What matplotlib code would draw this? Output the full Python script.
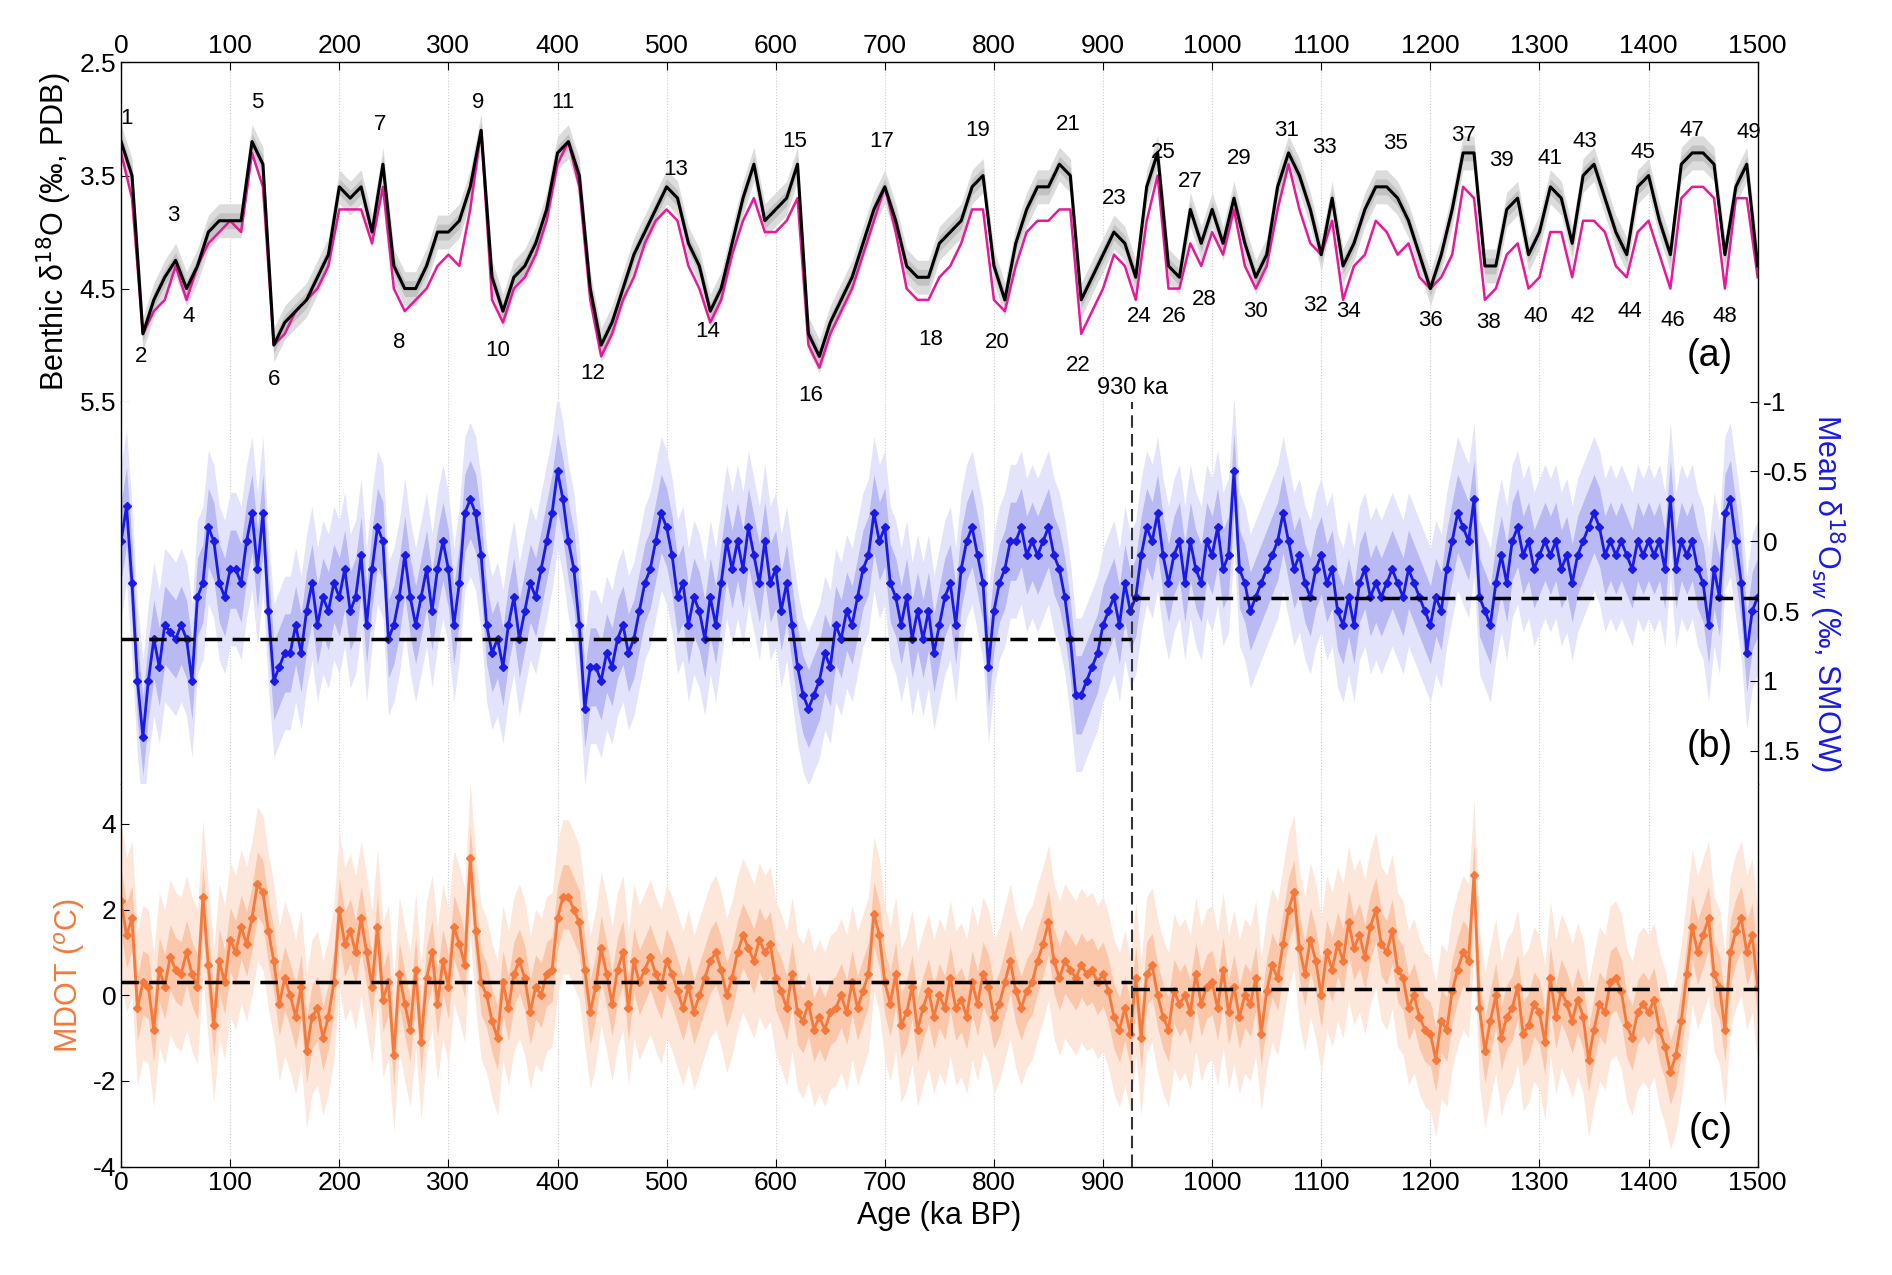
import numpy as np
import matplotlib
matplotlib.use("Agg")
import matplotlib.pyplot as plt

plt.rcParams['font.family'] = ['Liberation Sans', 'DejaVu Sans']
plt.rcParams['axes.unicode_minus'] = False

# Panel (a): benthic d18O, 10 ka steps
stack_a = [3.2,3.5,4.9,4.6,4.4,4.25,4.5,4.3,4.0,3.9,
 3.9,3.9,3.2,3.4,5.0,4.8,4.7,4.6,4.4,4.2,
 3.6,3.7,3.6,4.0,3.4,4.3,4.5,4.5,4.3,4.0,
 4.0,3.9,3.6,3.1,4.4,4.7,4.4,4.3,4.1,3.8,
 3.3,3.2,3.5,4.5,5.0,4.8,4.5,4.2,4.0,3.8,
 3.6,3.7,4.1,4.3,4.7,4.5,4.1,3.7,3.4,3.9,
 3.8,3.7,3.4,4.9,5.1,4.8,4.6,4.4,4.1,3.8,
 3.6,3.9,4.3,4.4,4.4,4.1,4.0,3.9,3.6,3.5,
 4.3,4.6,4.1,3.8,3.6,3.6,3.4,3.5,4.6,4.4,
 4.2,4.0,4.1,4.4,3.6,3.3,4.3,4.4,3.8,4.1,
 3.8,4.1,3.7,4.1,4.4,4.2,3.6,3.3,3.5,3.8,
 4.2,3.7,4.3,4.1,3.8,3.6,3.6,3.7,3.9,4.2,
 4.5,4.2,3.8,3.3,3.3,4.3,4.3,3.8,3.7,4.2,
 4.0,3.6,3.7,4.1,3.5,3.4,3.7,4.0,4.2,3.6,
 3.5,3.9,4.2,3.4,3.3,3.3,3.4,4.2,3.6,3.4,
 4.3]
site_a = [3.3,3.7,4.9,4.7,4.6,4.3,4.6,4.3,4.1,4.0,
 3.9,4.0,3.3,3.6,5.0,4.9,4.7,4.6,4.5,4.3,
 3.8,3.8,3.8,4.1,3.6,4.5,4.7,4.6,4.5,4.3,
 4.2,4.3,3.8,3.1,4.6,4.8,4.5,4.4,4.2,3.9,
 3.4,3.2,3.6,4.6,5.1,4.9,4.6,4.4,4.1,3.9,
 3.8,3.9,4.3,4.5,4.8,4.6,4.2,3.9,3.7,4.0,
 4.0,3.9,3.7,5.0,5.2,4.9,4.7,4.5,4.2,3.9,
 3.6,4.0,4.5,4.6,4.6,4.4,4.3,4.1,3.8,3.8,
 4.6,4.7,4.3,4.0,3.9,3.9,3.8,3.8,4.9,4.7,
 4.5,4.2,4.3,4.6,3.9,3.5,4.5,4.5,4.1,4.3,
 4.0,4.2,3.8,4.3,4.5,4.3,3.8,3.4,3.8,4.1,
 4.2,3.9,4.6,4.3,4.2,3.9,4.0,4.2,4.1,4.4,
 4.5,4.4,4.2,3.6,3.7,4.6,4.5,4.2,4.1,4.5,
 4.4,4.0,4.0,4.4,3.9,3.9,4.0,4.3,4.4,4.0,
 3.9,4.2,4.5,3.7,3.6,3.6,3.7,4.5,3.7,3.7,
 4.4]

# Panel (b): mean d18Osw, 5 ka steps
sw_b = [0.0,-0.25,0.3,1.0,1.4,1.0,0.7,0.9,0.6,0.65,0.7,0.6,0.7,1.0,0.4,0.3,-0.1,0.0,0.3,0.4,
 0.2,0.2,0.3,0.0,-0.2,0.2,-0.2,0.5,1.0,0.9,0.8,0.8,0.6,0.8,0.5,0.3,0.6,0.4,0.5,0.3,
 0.4,0.2,0.5,0.4,0.1,0.6,0.2,-0.1,0.0,0.7,0.6,0.4,0.1,0.4,0.6,0.4,0.2,0.5,0.2,0.0,
 0.2,0.6,0.3,-0.2,-0.3,-0.2,0.1,0.6,0.8,0.7,0.9,0.6,0.4,0.7,0.5,0.3,0.4,0.2,0.0,-0.2,
 -0.5,-0.3,0.0,0.2,0.6,1.2,0.9,0.9,1.0,0.8,0.9,0.7,0.6,0.8,0.7,0.5,0.3,0.2,0.0,-0.2,
 -0.1,0.1,0.4,0.3,0.6,0.4,0.5,0.7,0.4,0.6,0.3,0.0,0.2,0.0,0.2,-0.1,0.1,0.3,0.0,0.3,
 0.2,0.5,0.3,0.6,0.9,1.1,1.2,1.1,1.0,0.8,0.9,0.6,0.7,0.5,0.6,0.4,0.2,0.1,-0.2,0.0,
 -0.1,0.3,0.4,0.6,0.4,0.7,0.5,0.7,0.5,0.8,0.6,0.4,0.3,0.6,0.2,0.0,-0.1,0.1,0.3,0.9,
 0.5,0.3,0.2,0.0,0.0,-0.1,0.1,0.0,0.1,0.0,-0.1,0.1,0.2,0.4,0.7,1.1,1.1,1.0,0.9,0.8,
 0.6,0.5,0.4,0.6,0.3,0.5,0.4,0.1,-0.1,0.0,-0.2,0.1,0.3,0.1,0.0,0.3,0.0,0.2,0.3,0.0,
 0.1,-0.1,0.2,0.1,-0.5,0.2,0.3,0.5,0.4,0.3,0.2,0.1,0.0,-0.2,0.0,0.2,0.1,0.3,0.4,0.2,
 0.1,0.3,0.2,0.5,0.6,0.4,0.6,0.3,0.2,0.4,0.3,0.4,0.3,0.2,0.3,0.4,0.2,0.3,0.4,0.5,
 0.6,0.4,0.5,0.2,0.0,-0.2,-0.1,0.0,-0.3,0.4,0.5,0.6,0.3,0.1,0.3,0.0,-0.1,0.1,0.0,0.2,
 0.1,0.0,0.1,0.0,0.2,0.1,0.3,0.1,0.0,-0.1,-0.2,-0.1,0.1,0.0,0.1,0.0,0.1,0.2,0.0,0.1,
 0.0,0.1,0.0,0.2,-0.3,0.2,0.0,0.1,0.0,0.2,0.3,0.6,0.2,0.4,-0.2,-0.3,0.0,0.3,0.8,0.5,
 0.4]

# Panel (c): MDOT, 5 ka steps
mdot_c = [2.2,1.4,1.8,-0.3,0.3,0.2,-0.8,0.6,0.2,0.9,0.6,0.5,1.0,0.5,0.2,2.3,0.7,-0.7,0.8,0.3,
 1.3,1.0,1.6,1.2,1.8,2.6,2.4,1.5,0.8,-0.2,0.4,0.0,-0.5,0.2,-1.3,-0.5,-0.3,-1.0,-0.5,0.3,
 2.0,1.2,1.5,1.0,1.8,1.0,0.2,1.6,-0.1,0.3,-1.4,0.5,-0.2,-0.8,0.6,-1.1,0.4,1.0,-0.2,0.8,
 0.2,1.6,1.2,0.7,3.2,1.5,0.3,0.0,-0.6,-1.0,0.3,-0.3,0.5,0.8,0.4,-0.4,0.2,0.0,0.5,0.6,
 1.8,2.3,2.3,2.0,1.7,0.6,-0.4,0.2,1.1,0.5,-0.2,0.6,1.0,-0.3,0.8,0.3,0.6,0.9,0.5,0.2,
 0.8,0.5,0.1,-0.3,0.2,-0.4,0.0,0.4,0.8,1.0,0.6,0.0,0.4,1.0,1.4,1.1,0.8,1.3,1.0,1.2,
 0.4,0.1,-0.3,0.5,-0.4,-0.6,-0.2,-0.8,-0.5,-0.8,-0.4,-0.3,0.0,-0.4,0.3,-0.3,0.1,0.5,1.9,1.4,
 0.3,-0.2,0.5,-0.7,-0.4,0.2,-0.8,-0.3,0.1,-0.5,0.0,-0.3,0.4,-0.3,-0.1,-0.5,0.3,-0.2,0.5,0.2,
 -0.5,-0.2,0.3,0.8,0.1,-0.3,0.1,0.3,0.8,1.2,1.7,0.8,0.4,0.8,0.6,0.4,0.7,0.5,0.6,0.3,
 0.5,0.1,-0.5,-0.8,-0.3,-0.9,0.4,-1.0,0.5,0.7,0.0,-0.5,-0.8,0.1,-0.2,0.0,-0.4,0.5,-0.2,0.2,
 0.3,-0.3,0.6,-0.4,0.2,-0.5,0.0,-0.2,0.4,-0.9,0.1,0.7,0.4,1.2,2.0,2.4,1.1,0.5,1.3,0.8,
 0.0,1.0,0.6,1.2,0.8,1.7,1.1,1.4,0.9,1.6,2.0,1.2,1.0,1.5,0.6,0.4,-0.3,0.0,-0.5,-0.8,
 -0.9,-1.5,-0.6,-0.8,0.1,0.6,1.0,0.8,2.8,-0.3,-1.3,-0.6,0.0,-1.0,-0.5,-0.3,0.2,-0.9,-0.7,-0.2,
 -0.4,-1.1,0.4,-0.5,0.1,-0.2,-0.6,-0.1,-0.5,-1.5,-0.8,-0.2,-0.4,0.3,0.4,0.1,-0.7,-1.0,-0.4,-0.2,
 -0.4,-0.1,-0.8,-1.2,-1.8,-1.4,-0.6,0.5,1.6,1.0,1.4,1.8,0.5,0.2,-0.8,1.0,1.5,1.8,1.0,1.4,
 0.2]

# MIS labels: (label, age, y)
mis_num = list(range(1, 50))
mis_age = [5,18,48,62,125,140,237,255,327,345,405,432,508,538,617,632,697,742,785,803,
           868,877,910,933,955,965,980,993,1025,1040,1068,1095,1103,1125,1168,1200,1230,1253,1265,1297,
           1310,1340,1342,1383,1395,1422,1440,1470,1492]
mis_y = [3.0,5.1,3.85,4.75,2.85,5.3,3.05,4.98,2.85,5.05,2.85,5.25,3.45,4.88,3.2,5.45,3.2,4.95,3.1,4.98,
         3.05,5.18,3.7,4.75,3.3,4.75,3.55,4.6,3.35,4.7,3.1,4.65,3.25,4.7,3.22,4.78,3.15,4.8,3.37,4.75,
         3.35,4.75,3.2,4.7,3.3,4.78,3.1,4.75,3.12]

sw_mean_pre, sw_mean_post = 0.7, 0.41
mdot_mean_pre, mdot_mean_post = 0.3, 0.15
split_age = 927

age_a = np.linspace(0, 1500, len(stack_a))
age_b = np.linspace(0, 1500, len(sw_b))
age_c = np.linspace(0, 1500, len(mdot_c))

fig = plt.figure(figsize=(18.92, 12.75), dpi=100)
L, R = 0.064, 0.929
axa = fig.add_axes([L, 1-0.315, R-L, 0.266])
axb = fig.add_axes([L, 1-0.615, R-L, 0.300])
axc = fig.add_axes([L, 1-0.915, R-L, 0.300])

blue = '#1a1ae6'
orange = '#f4793a'
for ax in (axa, axb, axc):
    ax.set_xlim(0, 1500)
    for x in range(100, 1500, 100):
        ax.axvline(x, color='#cccccc', lw=0.8, ls=':', zorder=0)
    ax.tick_params(labelsize=19, direction='in', length=6)
    ax.set_xticks(range(0, 1501, 100))

# (a)
sa = np.array(stack_a)
axa.fill_between(age_a, sa-0.15, sa+0.15, color='#dcdcdc', lw=0)
axa.fill_between(age_a, sa-0.07, sa+0.07, color='#c2c2c2', lw=0)
axa.plot(age_a, site_a, color='#e8189a', lw=1.8)
axa.plot(age_a, stack_a, color='black', lw=2.2)
axa.set_ylim(5.5, 2.5)
axa.set_yticks([2.5, 3.5, 4.5, 5.5])
axa.set_yticklabels(['2.5', '3.5', '4.5', '5.5'])
axa.xaxis.tick_top()
axa.tick_params(axis='x', top=True, bottom=False, labeltop=True, labelbottom=False)
axa.set_ylabel('Benthic δ$^{18}$O (‰, PDB)', fontsize=22)
for n, x, y in zip(mis_num, mis_age, mis_y):
    axa.text(x, y, str(n), fontsize=16, ha='center', va='center')
axa.text(0.985, 0.08, '(a)', transform=axa.transAxes, fontsize=27, ha='right', va='bottom')

# (b)
sb = np.array(sw_b)
axb.fill_between(age_b, sb-0.55, sb+0.55, color='#e3e3fb', lw=0)
axb.fill_between(age_b, sb-0.28, sb+0.28, color='#b9b9f3', lw=0)
axb.plot(age_b, sw_b, color=blue, lw=2, marker='D', ms=4.5)
axb.plot([0, split_age], [sw_mean_pre]*2, 'k--', lw=2.5, dashes=(5, 3))
axb.plot([split_age, 1500], [sw_mean_post]*2, 'k--', lw=2.5, dashes=(5, 3))
axb.set_ylim(1.74, -1.0)
axb.yaxis.tick_right()
axb.yaxis.set_label_position('right')
axb.set_yticks([-1, -0.5, 0, 0.5, 1, 1.5])
axb.set_yticklabels(['-1', '-0.5', '0', '0.5', '1', '1.5'])
axb.tick_params(axis='x', labelbottom=False, bottom=False)
axb.set_ylabel('Mean δ$^{18}$O$_{sw}$ (‰, SMOW)', fontsize=22, color=blue, rotation=270, labelpad=28)
axb.text(0.985, 0.05, '(b)', transform=axb.transAxes, fontsize=27, ha='right', va='bottom')
axb.axvline(split_age, color='#333333', ls='--', lw=1.5, dashes=(6, 3))
axb.text(split_age, -1.02, '930 ka', fontsize=17, ha='center', va='bottom')

# (c)
sc = np.array(mdot_c)
axc.fill_between(age_c, sc-1.8, sc+1.8, color='#fde6da', lw=0)
axc.fill_between(age_c, sc-0.75, sc+0.75, color='#fac7ab', lw=0)
axc.plot(age_c, mdot_c, color=orange, lw=2, marker='D', ms=4.5)
axc.plot([0, split_age], [mdot_mean_pre]*2, 'k--', lw=2.5, dashes=(5, 3))
axc.plot([split_age, 1500], [mdot_mean_post]*2, 'k--', lw=2.5, dashes=(5, 3))
axc.set_ylim(-4, 4.93)
axc.set_yticks([-4, -2, 0, 2, 4])
axc.set_ylabel('MDOT ($^o$C)', fontsize=22, color=orange)
axc.set_xlabel('Age (ka BP)', fontsize=22)
axc.axvline(split_age, color='#333333', ls='--', lw=1.5, dashes=(6, 3))
axc.text(0.985, 0.05, '(c)', transform=axc.transAxes, fontsize=27, ha='right', va='bottom')

for ax in (axa, axb, axc):
    for s in ax.spines.values():
        s.set_linewidth(1.0)
axa.spines['bottom'].set_visible(False)
axb.spines['top'].set_visible(False)
axb.spines['bottom'].set_visible(False)
axc.spines['top'].set_visible(False)

fig.savefig('out.png', dpi=100)
